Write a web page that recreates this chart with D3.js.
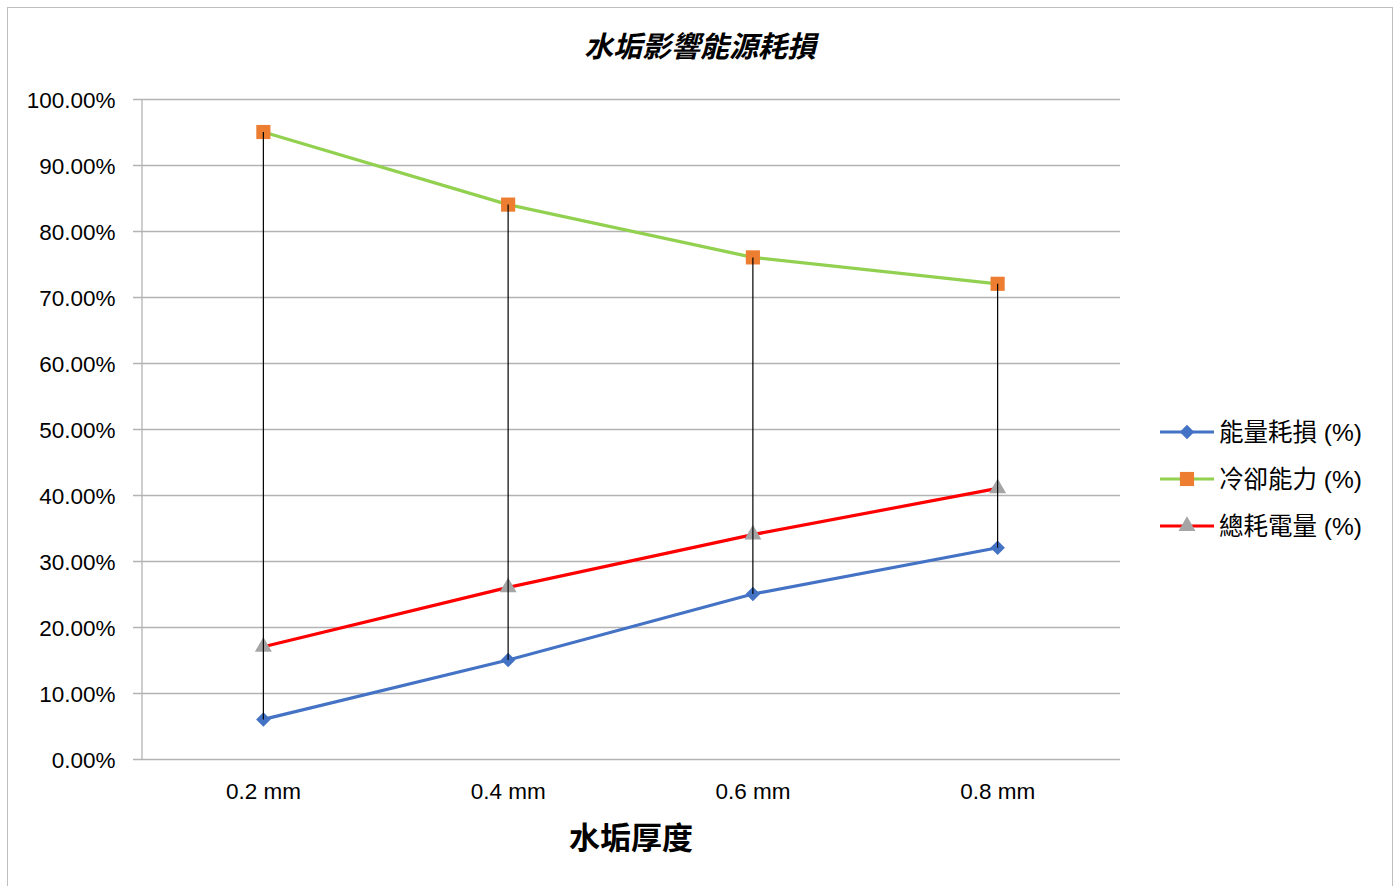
<!DOCTYPE html>
<html>
<head>
<meta charset="utf-8">
<script src="https://cdn.jsdelivr.net/npm/d3@7"></script>
<style>
  body { margin: 0; background: #fff; }
  text { font-family: "Liberation Sans", "Noto Sans CJK TC", sans-serif; fill: #000; }
</style>
</head>
<body>
<svg id="chart"></svg>
<script>
// data
const categories = ['0.2 mm', '0.4 mm', '0.6 mm', '0.8 mm'];
const energyLoss = [0.06, 0.15, 0.25, 0.32];
const coolingCapacity = [0.95, 0.84, 0.76, 0.72];
const totalPower = [0.17, 0.26, 0.34, 0.41];
const seriesNames = ['能量耗損 (%)', '冷卻能力 (%)', '總耗電量 (%)'];
const yTicks = [0, 0.1, 0.2, 0.3, 0.4, 0.5, 0.6, 0.7, 0.8, 0.9, 1.0];

const series = [
  {name: seriesNames[0], values: energyLoss, line: '#4472C4', marker: '#4472C4', shape: 'diamond'},
  {name: seriesNames[1], values: coolingCapacity, line: '#92D050', marker: '#ED7D31', shape: 'square'},
  {name: seriesNames[2], values: totalPower, line: '#FF0000', marker: '#A5A5A5', shape: 'triangle'}
];

const W = 1399, H = 886;
const margin = {top: 99, right: 279, bottom: 127, left: 141};

const svg = d3.select('#chart').attr('width', W).attr('height', H);

// outer chart border
svg.append('rect')
    .attr('x', 7.5).attr('y', 7.5)
    .attr('width', 1385).attr('height', 885)
    .attr('fill', 'none').attr('stroke', '#bfbfbf').attr('stroke-width', 1);

const xScale = d3.scaleBand()
    .domain(categories)
    .range([margin.left, W - margin.right]);

const yScale = d3.scaleLinear()
    .domain([0, 1])
    .range([H - margin.bottom, margin.top]);

const xc = d => xScale(d) + xScale.bandwidth() / 2;

// gridlines
svg.append('g')
    .selectAll('line')
    .data(yTicks)
  .join('line')
    .attr('x1', margin.left - 8)
    .attr('x2', W - margin.right)
    .attr('y1', d => Math.round(yScale(d)) + 0.5)
    .attr('y2', d => Math.round(yScale(d)) + 0.5)
    .attr('stroke', '#b3b3b3')
    .attr('stroke-width', 1.3);

// y axis
const yAxis = d3.axisLeft(yScale)
    .tickValues(yTicks)
    .tickSize(0)
    .tickPadding(26)
    .tickFormat(d3.format('.2%'));

svg.append('g')
    .attr('transform', `translate(${margin.left + 0.5},0)`)
    .call(yAxis)
    .call(g => g.select('.domain').attr('stroke', '#b3b3b3').attr('stroke-width', 1.3))
    .call(g => g.selectAll('text').style('font-size', '22.5px').attr('dy', '0.36em'));

// x axis labels
const xAxis = d3.axisBottom(xScale).tickSize(0).tickPadding(24);
svg.append('g')
    .attr('transform', `translate(0,${H - margin.bottom})`)
    .call(xAxis)
    .call(g => g.select('.domain').remove())
    .call(g => g.selectAll('text').style('font-size', '22.5px'));

// series lines
const line = d3.line()
    .x((d, i) => xc(categories[i]))
    .y(d => yScale(d));

svg.append('g')
    .selectAll('path')
    .data(series)
  .join('path')
    .attr('d', d => line(d.values))
    .attr('fill', 'none')
    .attr('stroke', d => d.line)
    .attr('stroke-width', 3.2)
    .attr('stroke-linejoin', 'round');

// markers
const symbolType = {diamond: d3.symbolSquare, square: d3.symbolSquare, triangle: d3.symbolTriangle};
const symbolSize = {diamond: 105, square: 200, triangle: 125};

function drawMarker(g, s, x, y) {
  g.append('path')
      .attr('d', d3.symbol().type(symbolType[s.shape]).size(symbolSize[s.shape])())
      .attr('transform', `translate(${x},${y})` + (s.shape === 'diamond' ? ' rotate(45)' : ''))
      .attr('fill', s.marker);
}

const markers = svg.append('g');
series.forEach(s => {
  s.values.forEach((v, i) => drawMarker(markers, s, xc(categories[i]), yScale(v)));
});

// high-low lines
svg.append('g')
    .selectAll('line')
    .data(categories)
  .join('line')
    .attr('x1', d => xc(d))
    .attr('x2', d => xc(d))
    .attr('y1', (d, i) => yScale(d3.max(series, s => s.values[i])))
    .attr('y2', (d, i) => yScale(d3.min(series, s => s.values[i])))
    .attr('stroke', '#000')
    .attr('stroke-width', 1.2);

// title
svg.append('text')
    .attr('x', 700)
    .attr('y', 57)
    .attr('text-anchor', 'middle')
    .style('font-family', '"Noto Sans CJK TC", sans-serif')
    .style('font-size', '29px')
    .style('font-weight', 'bold')
    .style('font-style', 'italic')
    .text('水垢影響能源耗損');

// x axis title
svg.append('text')
    .attr('x', 631)
    .attr('y', 849)
    .attr('text-anchor', 'middle')
    .style('font-family', '"Noto Sans CJK TC", sans-serif')
    .style('font-size', '31px')
    .style('font-weight', 'bold')
    .text('水垢厚度');

// legend
const legend = svg.append('g');
series.forEach((s, i) => {
  const y = 432 + i * 47;
  legend.append('line')
      .attr('x1', 1160).attr('x2', 1214)
      .attr('y1', y).attr('y2', y)
      .attr('stroke', s.line)
      .attr('stroke-width', 3.2);
  drawMarker(legend, s, 1187, y);
  legend.append('text')
      .attr('x', 1219)
      .attr('y', y)
      .attr('dy', '0.36em')
      .style('font-family', '"Liberation Sans", "Noto Sans CJK TC", sans-serif')
      .style('font-size', '24.5px')
      .text(s.name);
});
</script>
</body>
</html>
